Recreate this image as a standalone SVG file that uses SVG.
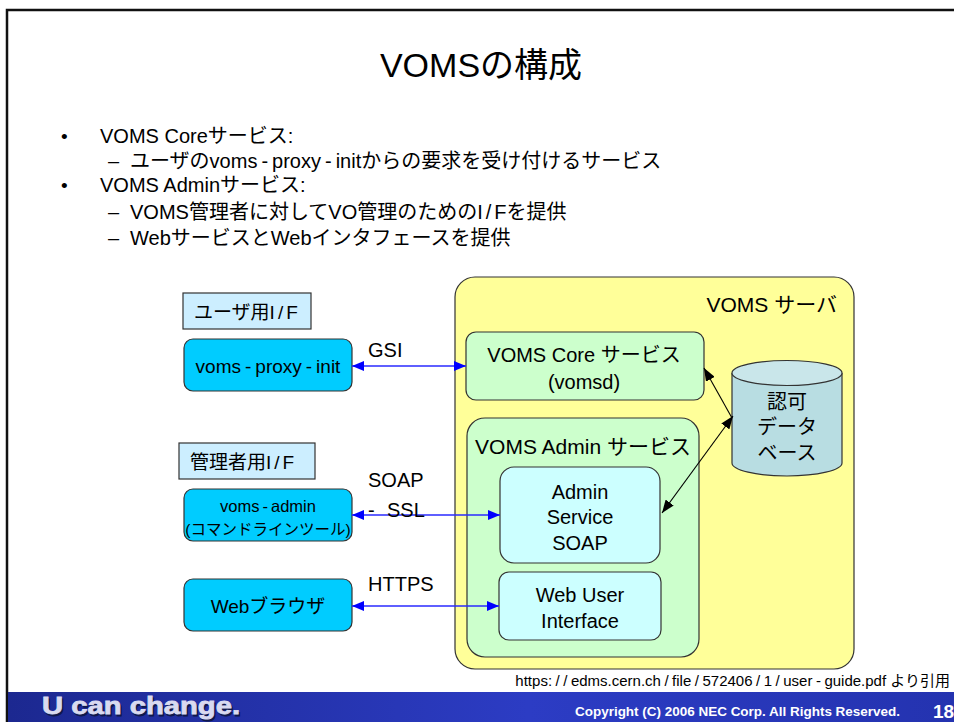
<svg xmlns="http://www.w3.org/2000/svg" width="954" height="722" viewBox="0 0 954 722">
  <style>
    text { font-family: "Liberation Sans", "Noto Sans CJK JP", sans-serif; fill: #000; }
    .box { stroke: #333; stroke-width: 1.2; }
    .client { fill: #00ccff; }
    .iflabel { fill: #cceeff; }
    .green { fill: #ccffcc; }
    .cyan { fill: #ccffff; }
    .blue-link { stroke: #2a2aff; stroke-width: 1.3; fill: none; }
    .db-link { stroke: #000; stroke-width: 1.1; fill: none; }
    .mid { text-anchor: middle; }
  </style>
  <defs>
    <marker id="blueHead" viewBox="0 0 12 10" refX="12" refY="5" markerWidth="12" markerHeight="10" markerUnits="userSpaceOnUse" orient="auto-start-reverse">
      <path d="M0,0 L12,5 L0,10 Z" fill="#0000ff"/>
    </marker>
    <marker id="blackHead" viewBox="0 0 13 10" refX="13" refY="5" markerWidth="13" markerHeight="10" markerUnits="userSpaceOnUse" orient="auto-start-reverse">
      <path d="M0,0 L13,5 L0,10 Z" fill="#000"/>
    </marker>
    <linearGradient id="band" x1="0" y1="0" x2="1" y2="0">
      <stop offset="0" stop-color="#1c2890"/>
      <stop offset="0.55" stop-color="#2c3cc4"/>
      <stop offset="1" stop-color="#2433b0"/>
    </linearGradient>
  </defs>

  <!-- page -->
  <rect x="0" y="0" width="954" height="722" fill="#fff"/>
  <path d="M7,722 V10 H954" fill="none" stroke="#111" stroke-width="2.5"/>

  <!-- title -->
  <text x="481" y="77" class="mid" font-size="34">VOMSの構成</text>

  <!-- bullet list -->
  <g font-size="20">
    <text x="61" y="143" font-size="19">•</text>
    <text x="100" y="143">VOMS Coreサービス:</text>
    <text x="108" y="168">–</text>
    <text x="130" y="168">ユーザのvoms<tspan dx="4">-</tspan><tspan dx="4">proxy</tspan><tspan dx="4">-</tspan><tspan dx="4">initからの要求を受け付けるサービス</tspan></text>
    <text x="61" y="192" font-size="19">•</text>
    <text x="100" y="192">VOMS Adminサービス:</text>
    <text x="108" y="219">–</text>
    <text x="130" y="219">VOMS管理者に対してVO管理のためのI<tspan dx="3">/</tspan><tspan dx="3">Fを提供</tspan></text>
    <text x="108" y="245">–</text>
    <text x="130" y="245">WebサービスとWebインタフェースを提供</text>
  </g>

  <!-- server container -->
  <g id="voms-server">
    <rect class="box" x="455" y="277" width="399" height="392" rx="20" fill="#ffff99"/>
    <text x="837" y="312" font-size="21" text-anchor="end">VOMS サーバ</text>
  </g>

  <g id="voms-core">
    <rect class="box green" x="466" y="332" width="238" height="68" rx="10"/>
    <text x="584" y="362" class="mid" font-size="20">VOMS Core サービス</text>
    <text x="584" y="389" class="mid" font-size="20">(vomsd)</text>
  </g>

  <g id="voms-admin-service">
    <rect class="box green" x="467" y="418" width="232" height="239" rx="18"/>
    <text x="583" y="454" class="mid" font-size="21">VOMS Admin サービス</text>
  </g>

  <g id="admin-soap">
    <rect class="box cyan" x="500" y="467" width="160" height="96" rx="14"/>
    <text x="580" y="499" class="mid" font-size="20">Admin</text>
    <text x="580" y="524" class="mid" font-size="20">Service</text>
    <text x="580" y="550" class="mid" font-size="20">SOAP</text>
  </g>

  <g id="web-ui">
    <rect class="box cyan" x="499" y="572" width="162" height="68" rx="10"/>
    <text x="580" y="602" class="mid" font-size="20">Web User</text>
    <text x="580" y="628" class="mid" font-size="20">Interface</text>
  </g>

  <g id="auth-db">
    <path class="box" d="M732,373 V463 A55,13 0 0 0 842,463 V373" fill="#b8dde2"/>
    <ellipse class="box" cx="787" cy="373" rx="55" ry="12.5" fill="#c9e6ea"/>
    <text x="787" y="409" class="mid" font-size="20">認可</text>
    <text x="787" y="434" class="mid" font-size="20">データ</text>
    <text x="787" y="460" class="mid" font-size="20">ベース</text>
  </g>

  <!-- client side -->
  <g id="user-if">
    <rect class="box iflabel" x="183" y="293" width="128" height="36"/>
    <text x="194" y="319" font-size="19">ユーザ用I<tspan dx="3">/</tspan><tspan dx="3">F</tspan></text>
  </g>

  <g id="voms-proxy-init">
    <rect class="box client" x="184" y="339" width="168" height="52" rx="9"/>
    <text x="268" y="373" class="mid" font-size="19">voms<tspan dx="4">-</tspan><tspan dx="4">proxy</tspan><tspan dx="4">-</tspan><tspan dx="4">init</tspan></text>
  </g>

  <g id="admin-if">
    <rect class="box iflabel" x="179" y="443" width="136" height="36"/>
    <text x="190" y="469" font-size="19">管理者用I<tspan dx="3">/</tspan><tspan dx="3">F</tspan></text>
  </g>

  <g id="voms-admin-cli">
    <rect class="box client" x="184" y="489" width="168" height="52" rx="9"/>
    <text x="268" y="512" class="mid" font-size="16.5">voms<tspan dx="3">-</tspan><tspan dx="3">admin</tspan></text>
    <text x="268" y="535" class="mid" font-size="15.5">(コマンドラインツール)</text>
  </g>

  <g id="web-browser">
    <rect class="box client" x="184" y="579" width="168" height="52" rx="9"/>
    <text x="268" y="613" class="mid" font-size="19">Webブラウザ</text>
  </g>

  <!-- connectors -->
  <g id="connectors">
    <line class="blue-link" x1="352" y1="366" x2="466" y2="366" marker-start="url(#blueHead)" marker-end="url(#blueHead)"/>
    <line class="blue-link" x1="352" y1="515" x2="500" y2="515" marker-start="url(#blueHead)" marker-end="url(#blueHead)"/>
    <line class="blue-link" x1="352" y1="606" x2="499" y2="606" marker-start="url(#blueHead)" marker-end="url(#blueHead)"/>
    <line class="db-link" x1="732" y1="418" x2="704" y2="368" marker-end="url(#blackHead)"/>
    <line class="db-link" x1="733" y1="416" x2="662" y2="513" marker-start="url(#blackHead)" marker-end="url(#blackHead)"/>
    <text x="368" y="357" font-size="20">GSI</text>
    <text x="368" y="487" font-size="20">SOAP</text>
    <text x="368" y="517" font-size="20">-<tspan x="387">SSL</tspan></text>
    <text x="368" y="591" font-size="20">HTTPS</text>
  </g>

  <!-- source note -->
  <text x="950" y="686" font-size="15" text-anchor="end">https:<tspan dx="3.5">/</tspan><tspan dx="3.5">/</tspan><tspan dx="3.5">edms.cern.ch</tspan><tspan dx="3.5">/</tspan><tspan dx="3.5">file</tspan><tspan dx="3.5">/</tspan><tspan dx="3.5">572406</tspan><tspan dx="3.5">/</tspan><tspan dx="3.5">1</tspan><tspan dx="3.5">/</tspan><tspan dx="3.5">user</tspan><tspan dx="3.5">-</tspan><tspan dx="3.5">guide.pdf より引用</tspan></text>

  <!-- footer band -->
  <rect x="8" y="692" width="946" height="30" fill="url(#band)"/>
  <text x="43.5" y="715.5" font-size="23" font-weight="bold" textLength="198" lengthAdjust="spacingAndGlyphs" style="fill:#10184a; stroke:#10184a; stroke-width:0.8">U can change.</text>
  <text x="42" y="714" font-size="23" font-weight="bold" textLength="198" lengthAdjust="spacingAndGlyphs" style="fill:#d9daf0; stroke:#d9daf0; stroke-width:0.8">U can change.</text>
  <text x="900" y="716" font-size="13" font-weight="bold" text-anchor="end" textLength="325" lengthAdjust="spacingAndGlyphs" style="fill:#fff">Copyright (C) 2006 NEC Corp.  All Rights Reserved.</text>
  <text x="933" y="718" font-size="19" font-weight="bold" style="fill:#fff">18</text>
</svg>
